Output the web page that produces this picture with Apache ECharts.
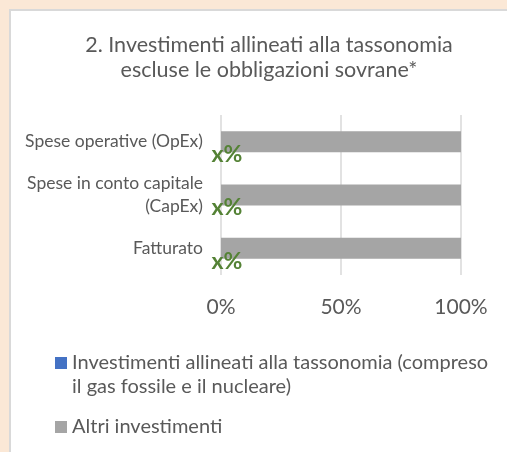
<!DOCTYPE html>
<html>
<head>
<meta charset="utf-8">
<script src="https://cdn.jsdelivr.net/npm/echarts@6/dist/echarts.min.js"></script>
<style>
html, body { margin: 0; padding: 0; }
#main { width: 507px; height: 452px; }
</style>
</head>
<body>
<div id="main"></div>
<script>
// categories top to bottom
var categories = ['Spese operative (OpEx)', 'Spese in conto capitale\n(CapEx)', 'Fatturato'];
var alignedValues = [0, 0, 0];
var otherValues = [100, 100, 100];
var alignedLabel = 'x%';
var xTicks = [0, 50, 100];
var seriesNames = ['Investimenti allineati alla tassonomia (compreso\nil gas fossile e il nucleare)', 'Altri investimenti'];

var font = 'Lato';
var grey = '#595959';

var chart = echarts.init(document.getElementById('main'));
chart.setOption({
	backgroundColor: '#FBE8D6',
	animation: false,
	textStyle: { fontFamily: font },
	graphic: [{
		type: 'rect',
		shape: { x: 10, y: 10, width: 520, height: 480 },
		style: { fill: '#fff', stroke: '#D9D9D9', lineWidth: 2 },
		z: -10
	}],
	title: {
		text: '2. Investimenti allineati alla tassonomia\nescluse le obbligazioni sovrane*',
		left: 264,
		top: 28,
		textAlign: 'center',
		textStyle: { fontFamily: font, fontSize: 21.5, lineHeight: 25, fontWeight: 'normal', color: grey }
	},
	legend: {
		orient: 'vertical',
		left: 50,
		top: 322,
		itemWidth: 12,
		itemHeight: 12,
		itemGap: 16,
		icon: 'rect',
		// leading blank line keeps the marker level with the first text line
		formatter: function (name) {
			return name.indexOf('\n') >= 0 ? '\n' + name : name;
		},
		textStyle: { fontFamily: font, fontSize: 20, lineHeight: 24, color: grey },
		data: seriesNames
	},
	grid: { left: 221, right: 46, top: 115, bottom: 177 },
	xAxis: {
		type: 'value',
		min: xTicks[0],
		max: xTicks[xTicks.length - 1],
		interval: xTicks[1] - xTicks[0],
		axisLine: { show: false },
		axisTick: { show: false },
		splitLine: { lineStyle: { color: '#D9D9D9', width: 1.5 } },
		axisLabel: { formatter: '{value}%', color: grey, fontSize: 21, margin: 22, fontFamily: font }
	},
	yAxis: {
		type: 'category',
		data: categories,
		inverse: true,
		axisLine: { show: false },
		axisTick: { show: false },
		axisLabel: { color: grey, fontSize: 17.5, lineHeight: 23, margin: 18, fontFamily: font }
	},
	series: [{
		name: seriesNames[0],
		type: 'bar',
		stack: 'tot',
		barWidth: 21,
		data: alignedValues,
		itemStyle: { color: '#4472C4' },
		label: {
			show: true,
			position: 'inside',
			offset: [6, 13],
			formatter: alignedLabel,
			color: '#548235',
			fontWeight: 'bold',
			fontSize: 23,
			fontFamily: font
		},
		z: 3
	}, {
		name: seriesNames[1],
		type: 'bar',
		stack: 'tot',
		barWidth: 21,
		data: otherValues,
		itemStyle: { color: '#A5A5A5' }
	}]
});
</script>
</body>
</html>
